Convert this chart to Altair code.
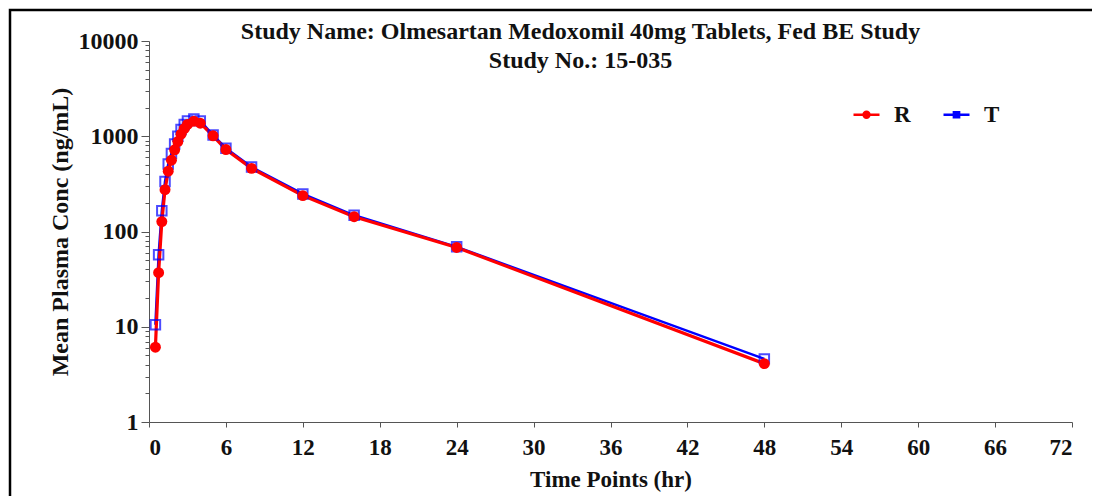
import altair as alt
import pandas as pd

times = [0.5, 0.75, 1.0, 1.25, 1.5, 1.75, 2.0, 2.25, 2.5, 2.75, 3.0, 3.5, 4.0, 5.0, 6.0, 8.0, 12.0, 16.0, 24.0, 48.0]
conc_R = [6.1, 37, 127, 275, 430, 560, 720, 880, 1050, 1200, 1330, 1440, 1370, 1010, 725, 460, 238, 143, 68, 4.1]
conc_T = [10.5, 57, 165, 335, 510, 660, 830, 1000, 1180, 1330, 1450, 1520, 1450, 1030, 750, 475, 248, 148, 69, 4.6]
series_names = ["R", "T"]
series_colors = ["#ff0000", "#0000ff"]
x_ticks = list(range(0, 73, 6))
y_major = [1, 10, 100, 1000, 10000]
y_minor = [m * d for d in [1, 10, 100, 1000] for m in range(2, 10)]
title_lines = ["Study Name: Olmesartan Medoxomil 40mg Tablets, Fed BE Study", "Study No.: 15-035"]

FONT = "Liberation Serif"

df = pd.DataFrame({
    "time": times * 2,
    "conc": conc_R + conc_T,
    "series": ["R"] * len(times) + ["T"] * len(times),
})

xs = alt.Scale(domain=[0, 72], nice=False)
ys = alt.Scale(type="log", domain=[1, 10000], nice=False)
cs = alt.Scale(domain=series_names, range=series_colors)

base = alt.Chart(df)

line_T = base.transform_filter(alt.datum.series == "T").mark_line(strokeWidth=2.5).encode(
    x=alt.X("time:Q", scale=xs, axis=alt.Axis(
        values=x_ticks, title="Time Points (hr)", grid=False, tickSize=5,
        labelFont=FONT, labelFontSize=23, labelFontWeight="bold", labelColor="#111",
        titleFont=FONT, titleFontSize=23, titleFontWeight="bold", titleColor="#111",
        domainColor="#555", tickColor="#555", labelPadding=9, titlePadding=9)),
    y=alt.Y("conc:Q", scale=ys, axis=alt.Axis(
        values=y_major, format="d", title="Mean Plasma Conc (ng/mL)", grid=False, tickSize=8,
        labelFont=FONT, labelFontSize=24, labelFontWeight="bold", labelColor="#111",
        titleFont=FONT, titleFontSize=24, titleFontWeight="bold", titleColor="#111",
        domainColor="#555", tickColor="#555", labelPadding=3, titlePadding=6)),
    color=alt.Color("series:N", scale=cs, legend=None),
)

line_R = base.transform_filter(alt.datum.series == "R").mark_line(strokeWidth=3.2).encode(
    x=alt.X("time:Q", scale=xs, axis=None),
    y=alt.Y("conc:Q", scale=ys, axis=None),
    color=alt.Color("series:N", scale=cs, legend=None),
)

pts_T = base.transform_filter(alt.datum.series == "T").mark_point(
    shape="square", filled=False, size=90, strokeWidth=2).encode(
    x=alt.X("time:Q", scale=xs, axis=None),
    y=alt.Y("conc:Q", scale=ys, axis=None),
    color=alt.Color("series:N", scale=cs, legend=None),
)

pts_R = base.transform_filter(alt.datum.series == "R").mark_point(
    shape="circle", filled=True, size=120, opacity=1).encode(
    x=alt.X("time:Q", scale=xs, axis=None),
    y=alt.Y("conc:Q", scale=ys, axis=None),
    color=alt.Color("series:N", scale=cs, legend=None),
)

path_R = "M-2,0H2M0.45,0A0.45,0.45,0,1,1,-0.45,0A0.45,0.45,0,1,1,0.45,0Z"
path_T = "M-2,0H2M-0.4,-0.4H0.4V0.4H-0.4Z"

legend_layer = base.mark_point(opacity=0).encode(
    x=alt.X("time:Q", scale=xs, axis=None),
    y=alt.Y("conc:Q", scale=ys, axis=alt.Axis(
        values=y_minor, labels=False, title=None, grid=False, tickSize=4, domain=False,
        tickColor="#555", orient="left")),
    stroke=alt.Stroke("series:N", scale=alt.Scale(domain=series_names, range=series_colors),
                      legend=alt.Legend(title=None)),
    fill=alt.Fill("series:N", scale=alt.Scale(domain=series_names, range=["#ff0000", "transparent"]),
                  legend=alt.Legend(title=None)),
    shape=alt.Shape("series:N", scale=alt.Scale(domain=series_names, range=[path_R, path_T]),
                    legend=alt.Legend(title=None)),
)

frame = alt.Chart(pd.DataFrame({"a": [0]})).mark_rect(
    fill="transparent", stroke="#000", strokeWidth=2.5, clip=False).encode(
    x=alt.value(-139), x2=alt.value(990), y=alt.value(-31), y2=alt.value(600))

chart = alt.layer(frame, line_T, line_R, pts_T, pts_R, legend_layer).resolve_scale(
    shape="independent", fill="independent", stroke="independent"
).resolve_axis(x="independent", y="independent").properties(
    width=923, height=381,
    autosize=alt.AutoSizeParams(type="none"),
    padding={"left": 141, "top": 33, "right": 20, "bottom": 74},
    title=alt.TitleParams(text=title_lines, font=FONT, fontSize=24, fontWeight="bold",
                          color="#111", anchor="middle", frame="group", dx=-30, offset=0, dy=88,
                          baseline="bottom", lineHeight=29),
).configure_legend(
    orient="none", legendX=706, legendY=62, direction="horizontal",
    labelFont=FONT, labelFontSize=23, labelFontWeight="bold", labelColor="#111",
    symbolSize=169, symbolStrokeWidth=2.5, symbolOpacity=1, columnPadding=27, labelOffset=16,
).configure_view(stroke=None)

chart.save("out.html", embed_options={"renderer": "svg", "actions": False})
